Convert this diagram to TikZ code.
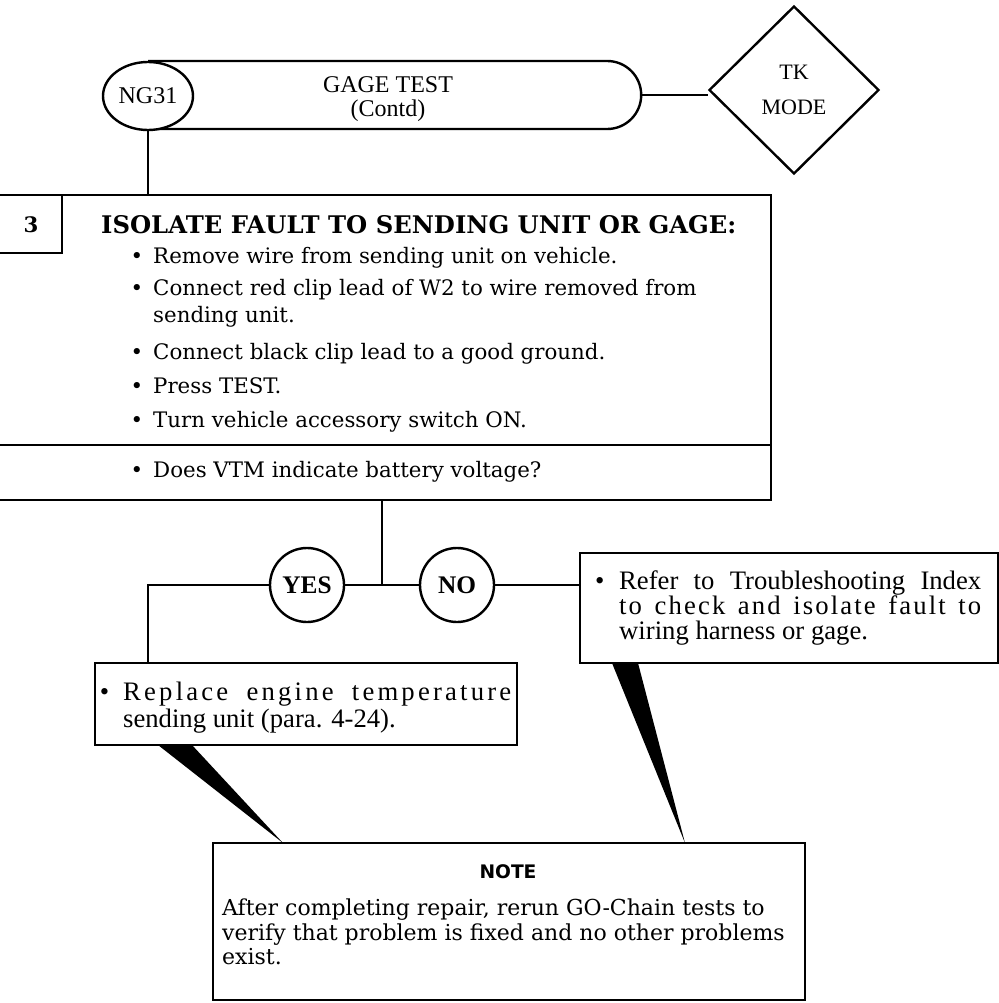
\documentclass[tikz,border=0pt]{standalone}
\usepackage{fontspec}
\setmainfont{DejaVu Serif}
\newfontfamily\condfont{Liberation Serif}
\newfontfamily\notefont{DejaVu Sans}
\usetikzlibrary{shapes.geometric,shapes.misc}
\begin{document}
\begin{tikzpicture}[x=0.75pt,y=-0.75pt,line width=1.8pt,
  body/.style={font=\fontsize{16}{19}\selectfont,anchor=base west,inner sep=0pt},
  condtext/.style={font=\condfont\fontsize{20}{24}\selectfont,anchor=base west,inner sep=0pt},
  notetext/.style={font=\fontsize{16.5}{19}\selectfont,anchor=base west,inner sep=0pt},
  answer/.style={circle,draw,fill=white,minimum size=55.5pt,inner sep=0pt,font=\condfont\bfseries\fontsize{19}{20}\selectfont},
  plainbox/.style={draw,rectangle,inner sep=0pt}]
\fill[white] (0,0) rectangle (999,1003);
\useasboundingbox (0,0) rectangle (999,1003);

% top row
\node[rounded rectangle,rounded rectangle west arc=none,draw,minimum width=369pt,minimum height=51pt,
  inner sep=0pt,anchor=west] (pill) at (148,95) {};
\node[align=center,inner sep=0pt,font=\condfont\fontsize{18}{18}\selectfont] (gt) at (388,99) {GAGE TEST\\(Contd)};
\node[ellipse,draw,fill=white,minimum width=67.5pt,minimum height=51pt,inner sep=0pt,
  font=\condfont\fontsize{18}{20}\selectfont] (ng) at (148,96) {NG31};
\node[diamond,draw,minimum width=127.5pt,minimum height=126pt,inner sep=0pt,align=center,
  font=\condfont\fontsize{16.5}{26}\selectfont] (dia) at (794,90) {TK\\MODE};
\draw (pill.east) -- (pill.east -| dia.west);

% main step box (open on the left)
\coordinate (bTL) at (0,195);
\coordinate (bTR) at (771,195);
\coordinate (bBR) at (771,500);
\coordinate (bBL) at (0,500);
\coordinate (dL) at (0,445);
\coordinate (dR) at (771,445);
\coordinate (cTop) at (62,195);
\coordinate (cCorner) at (62,253);
\coordinate (cLeft) at (0,253);
\draw (bTL) -- (bTR) -- (bBR) -- (bBL);
\draw (dL) -- (dR);
\draw (cTop) -- (cCorner) -- (cLeft);
\draw (ng.south) -- (ng.south |- bTL);

\node[font=\bfseries\fontsize{16}{18}\selectfont,inner sep=0pt] (three) at (31,225) {3};
\node[body,font=\bfseries\fontsize{18.2}{20}\selectfont] (head) at (100,233) {ISOLATE FAULT TO SENDING UNIT OR GAGE:};
\node[body] (l1) at (152,263) {\llap{•\hspace{7.5pt}}Remove wire from sending unit on vehicle.};
\node[body] (l2) at (152,295) {\llap{•\hspace{7.5pt}}Connect red clip lead of W2 to wire removed from};
\node[body] (l3) at (152,322) {sending unit.};
\node[body] (l4) at (152,359) {\llap{•\hspace{7.5pt}}Connect black clip lead to a good ground.};
\node[body] (l5) at (152,393) {\llap{•\hspace{7.5pt}}Press TEST.};
\node[body] (l6) at (152,427) {\llap{•\hspace{7.5pt}}Turn vehicle accessory switch ON.};
\node[body] (l7) at (152,477) {\llap{•\hspace{7.5pt}}Does VTM indicate battery voltage?};

% decision
\coordinate (bx) at (382,500);
\coordinate (jn) at (382,585);
\node[answer] (yes) at (307,585) {YES};
\node[answer] (no) at (457,585) {NO};
\draw (bx) -- (jn);
\draw (yes.east) -- (no.west);

% result boxes
\node[plainbox,minimum width=316.5pt,minimum height=61.5pt] (rep) at (306,704) {};
\node[plainbox,minimum width=313.5pt,minimum height=82.5pt] (ref) at (789,608) {};
\coordinate (rin) at (148,663);
\draw (yes.west) -| (rin);
\draw (no.east) -- (no.east -| ref.west);

\node[condtext] (r1) at (122,700) {\llap{•\hspace{10.5pt}}\makebox[291pt][s]{\addfontfeature{LetterSpace=12}Replace engine temperature}};
\node[condtext] (r2) at (122,727) {sending unit (para. 4-24).};
\node[condtext] (f1) at (618,589) {\llap{•\hspace{11pt}}\makebox[271.5pt][s]{Refer to Troubleshooting Index}};
\node[condtext] (f2) at (618,614) {\makebox[271.5pt][s]{\addfontfeature{LetterSpace=8}to check and isolate fault to}};
\node[condtext] (f3) at (618,639) {wiring harness or gage.};

% note box and pointers
\node[plainbox,minimum width=444pt,minimum height=117.75pt] (note) at (509,921.5) {};
\coordinate (wl1) at (158,745);
\coordinate (wl2) at (192,745);
\coordinate (wlt) at (283,843);
\coordinate (wr1) at (612,663);
\coordinate (wr2) at (638,663);
\coordinate (wrt) at (685,843);
\fill (wl1) -- (wl2) -- (wlt) -- cycle;
\fill (wr1) -- (wr2) -- (wrt) -- cycle;

\node[font=\notefont\bfseries\fontsize{14}{16}\selectfont,inner sep=0pt] (notehd) at (508,872) {NOTE};
\node[notetext] (n1) at (221,915) {After completing repair, rerun GO-Chain tests to};
\node[notetext] (n2) at (221,940) {verify that problem is fixed and no other problems};
\node[notetext] (n3) at (221,964) {exist.};
\end{tikzpicture}
\end{document}
